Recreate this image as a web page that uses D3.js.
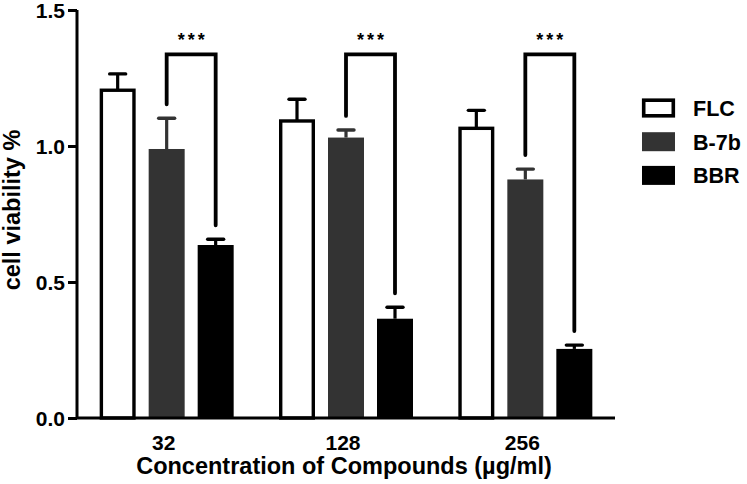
<!DOCTYPE html>
<html>
<head>
<meta charset="utf-8">
<script src="https://cdn.jsdelivr.net/npm/d3@7/dist/d3.min.js"></script>
<style>
  html, body { margin: 0; padding: 0; background: #fff; }
  svg { display: block; font-family: "Liberation Sans", Arial, sans-serif; }
</style>
</head>
<body>
<svg id="chart" width="747" height="484"></svg>
<script>
// ---- data ----
const categories = ["32", "128", "256"];
const seriesNames = ["FLC", "B-7b", "BBR"];
const flcValues = [1.205, 1.092, 1.065];
const flcErrors = [0.060, 0.080, 0.066];
const b7bValues = [0.989, 1.031, 0.877];
const b7bErrors = [0.113, 0.028, 0.038];
const bbrValues = [0.636, 0.365, 0.254];
const bbrErrors = [0.021, 0.042, 0.014];
const yTicks = [0, 0.5, 1.0, 1.5];
const significance = ["***", "***", "***"];
const bracketLevel = [1.337, 1.337, 1.337];
const xTitle = "Concentration of Compounds (\u00b5g/ml)";
const yTitle = "cell viability %";

(function () {
// ---- styling ----
const fills = { "FLC": "#ffffff", "B-7b": "#333333", "BBR": "#000000" };
const strokes = { "FLC": "#000000", "B-7b": "#333333", "BBR": "#000000" };

const svg = d3.select("#chart");
const mLeft = 77, mRight = 615, mTop = 10, mBottom = 418;

const y = d3.scaleLinear().domain([0, 1.5]).range([mBottom, mTop]);
const x = d3.scaleBand().domain(categories).range([mLeft, mRight]).padding(0);
const xs = d3.scalePoint().domain(seriesNames).range([-49, 49]);
const barW = 36;

const valuesBy = { "FLC": flcValues, "B-7b": b7bValues, "BBR": bbrValues };
const errorsBy = { "FLC": flcErrors, "B-7b": b7bErrors, "BBR": bbrErrors };

const records = [];
categories.forEach((c, i) => {
  seriesNames.forEach(s => {
    records.push({ cat: c, i, series: s, value: valuesBy[s][i], err: errorsBy[s][i] });
  });
});
const cx = d => x(d.cat) + x.bandwidth() / 2 + xs(d.series);

// error bars (behind bars)
const eb = svg.append("g");
eb.selectAll("line.v").data(records).join("line").attr("class", "v")
  .attr("x1", cx).attr("x2", cx)
  .attr("y1", d => y(d.value)).attr("y2", d => y(d.value + d.err))
  .attr("stroke", d => strokes[d.series]).attr("stroke-width", 3.2);
eb.selectAll("line.c").data(records).join("line").attr("class", "c")
  .attr("x1", d => cx(d) - 8).attr("x2", d => cx(d) + 8)
  .attr("y1", d => y(d.value + d.err)).attr("y2", d => y(d.value + d.err))
  .attr("stroke", d => strokes[d.series]).attr("stroke-width", 3.4)
  .attr("stroke-linecap", "round");

// bars
const sw = 3.4;
svg.append("g").selectAll("rect").data(records).join("rect")
  .attr("x", d => d.series === "FLC" ? cx(d) - barW / 2 + sw / 2 : cx(d) - barW / 2)
  .attr("width", d => d.series === "FLC" ? barW - sw : barW)
  .attr("y", d => y(d.value))
  .attr("height", d => y(0) - y(d.value))
  .attr("fill", d => fills[d.series])
  .attr("stroke", d => d.series === "FLC" ? "#000" : "none")
  .attr("stroke-width", sw);

// axes
const yAxis = d3.axisLeft(y).tickValues(yTicks).tickFormat(d3.format(".1f")).tickSize(9).tickPadding(3);
const gy = svg.append("g").attr("transform", `translate(${mLeft},0)`).call(yAxis);
gy.select(".domain").attr("d", `M0,${mTop}V${mBottom}`).attr("stroke", "#000").attr("stroke-width", 3);
gy.selectAll(".tick line").attr("stroke", "#000").attr("stroke-width", 3);
gy.selectAll(".tick text").attr("font-size", 21).attr("font-weight", "bold").attr("fill", "#000")
  .attr("font-family", "'Liberation Sans', Arial, sans-serif").attr("dy", "0.34em");

const xAxis = d3.axisBottom(x).tickSize(0).tickPadding(17);
const gx = svg.append("g").attr("transform", `translate(0,${mBottom})`).call(xAxis);
gx.select(".domain").attr("d", `M${mLeft},0H${mRight}`).attr("stroke", "#000").attr("stroke-width", 3);
gx.selectAll(".tick text").attr("font-size", 21).attr("font-weight", "bold").attr("fill", "#000")
  .attr("font-family", "'Liberation Sans', Arial, sans-serif").attr("dx", "-3");

// significance brackets
const gap = 14;
categories.forEach((c, i) => {
  const x1 = x(c) + x.bandwidth() / 2 + xs("B-7b");
  const x2 = x(c) + x.bandwidth() / 2 + xs("BBR");
  const yl = y(b7bValues[i] + b7bErrors[i]) - gap;
  const yr = y(bbrValues[i] + bbrErrors[i]) - gap;
  const yt = y(bracketLevel[i]);
  svg.append("path")
    .attr("d", `M${x1},${yl}V${yt}H${x2}V${yr}`)
    .attr("fill", "none").attr("stroke", "#000").attr("stroke-width", 3.8)
    .attr("stroke-linecap", "round").attr("stroke-linejoin", "miter");
  svg.append("text")
    .attr("x", (x1 + x2) / 2 + 1.5).attr("y", yt - 8)
    .attr("text-anchor", "middle")
    .attr("font-size", 18).attr("font-weight", "bold")
    .attr("letter-spacing", 3)
    .text(significance[i]);
});

// axis titles
svg.append("text")
  .attr("transform", `translate(20,210) rotate(-90)`)
  .attr("text-anchor", "middle").attr("font-size", 23.5).attr("font-weight", "bold")
  .text(yTitle);
svg.append("text")
  .attr("x", (mLeft + mRight) / 2 - 2).attr("y", 474)
  .attr("text-anchor", "middle").attr("font-size", 23.5).attr("font-weight", "bold")
  .text(xTitle);

// legend
const legend = svg.append("g");
seriesNames.forEach((s, i) => {
  const ly = 108 + i * 33.7;
  legend.append("rect")
    .attr("x", s === "FLC" ? 642 + 1.7 : 642)
    .attr("y", s === "FLC" ? ly - 9.5 + 1.7 : ly - 9.5)
    .attr("width", s === "FLC" ? 33 - 3.4 : 33)
    .attr("height", s === "FLC" ? 19 - 3.4 : 19)
    .attr("fill", fills[s])
    .attr("stroke", s === "FLC" ? "#000" : "none")
    .attr("stroke-width", 3.6);
  legend.append("text")
    .attr("x", 693).attr("y", ly + 8)
    .attr("font-size", 21.5).attr("font-weight", "bold")
    .text(s);
});
})();
</script>
</body>
</html>
